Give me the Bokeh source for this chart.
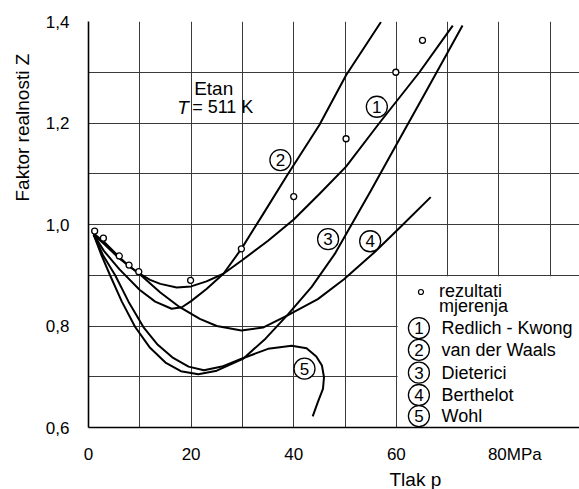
from bokeh.plotting import figure
from bokeh.models import FixedTicker, CustomJSTickFormatter, Range1d, Title
from bokeh.embed import file_html
from bokeh.resources import INLINE
from bokeh.core.properties import value

FONT = "Liberation Sans"

# measured data (rezultati mjerenja)
p_meas = [1.2, 2.9, 6.0, 7.9, 9.8, 19.9, 29.8, 40.0, 50.2, 59.9, 65.1]
z_meas = [0.987, 0.973, 0.938, 0.920, 0.907, 0.890, 0.952, 1.055, 1.169, 1.300, 1.363]

# (1) Redlich-Kwong
p_rk = [1.0, 2.9, 6.0, 7.9, 9.8, 12, 14, 17.2, 20, 23, 26.3, 30, 35, 40, 45, 50.2, 56.7, 64.5, 71.0]
z_rk = [0.982, 0.967, 0.936, 0.918, 0.904, 0.891, 0.883, 0.876, 0.878, 0.888, 0.903, 0.930, 0.968, 1.010, 1.060, 1.114, 1.200, 1.300, 1.392]

# (2) van der Waals
p_vdw = [1.0, 3, 6, 10, 13, 16.2, 18.2, 20, 23, 26.3, 29.8, 34, 38.6, 45, 50.2, 57.0]
z_vdw = [0.980, 0.948, 0.912, 0.871, 0.848, 0.834, 0.837, 0.849, 0.873, 0.903, 0.952, 1.020, 1.095, 1.196, 1.294, 1.399]

# (3) Dieterici
p_die = [1.0, 2.5, 4.2, 6.5, 9.1, 12, 15, 18, 21.4, 25, 30.2, 34.5, 38.8, 43.5, 48, 55, 60, 65, 70, 72.9]
z_die = [0.980, 0.940, 0.900, 0.848, 0.798, 0.757, 0.728, 0.711, 0.705, 0.712, 0.736, 0.775, 0.822, 0.877, 0.942, 1.066, 1.157, 1.248, 1.339, 1.392]

# (4) Berthelot
p_ber = [1.0, 3, 6, 10, 14, 17.8, 21.7, 25, 29.8, 34, 38.8, 44.7, 49.8, 55.7, 61, 66.7]
z_ber = [0.980, 0.962, 0.933, 0.902, 0.866, 0.837, 0.814, 0.800, 0.791, 0.797, 0.821, 0.853, 0.892, 0.945, 0.997, 1.054]

# (5) Wohl
p_wohl = [1.0, 2.8, 5.2, 7.8, 10.7, 13.5, 16.5, 19.5, 22.5, 26, 30.2, 35, 39.6, 42.5, 44.4, 45.5, 45.9, 45.7, 44.7, 43.7]
z_wohl = [0.980, 0.940, 0.900, 0.848, 0.798, 0.763, 0.737, 0.720, 0.713, 0.720, 0.737, 0.755, 0.761, 0.756, 0.740, 0.722, 0.699, 0.676, 0.650, 0.622]

x_ticks = [0, 20, 40, 60, 80]
x_grid = [0, 10, 20, 30, 40, 50, 60, 70, 80, 90]
y_ticks = [0.6, 0.8, 1.0, 1.2, 1.4]
y_grid = [0.7, 0.9, 1.1, 1.3]

curve_numbers = ["1", "2", "3", "4", "5"]
legend_names = ["Redlich - Kwong", "van der Waals", "Dieterici", "Berthelot", "Wohl"]

p = figure(width=579, height=489, x_range=Range1d(0, 95.7), y_range=Range1d(0.6, 1.4),
           output_backend="svg", toolbar_location=None,
           min_border_left=87, min_border_right=0, min_border_top=21, min_border_bottom=60)
p.outline_line_color = None
p.background_fill_color = "white"
p.border_fill_color = "white"

p.xaxis.ticker = FixedTicker(ticks=x_ticks)
p.xgrid.ticker = FixedTicker(ticks=x_grid)
yt = FixedTicker(ticks=y_ticks, minor_ticks=y_grid)
p.yaxis.ticker = yt
p.ygrid.ticker = yt
p.yaxis.formatter = CustomJSTickFormatter(code="return tick.toFixed(1).replace('.', ',');")
p.xaxis.formatter = CustomJSTickFormatter(
    code="return tick == 80 ? '\\u2007\\u2007\\u2007\\u200980MPa' : tick.toFixed(0);")

for g in (p.xgrid, p.ygrid):
    g.grid_line_color = "#3a3a3a"
    g.grid_line_width = 1
    g.minor_grid_line_color = "#3a3a3a"
    g.minor_grid_line_width = 1

for ax in (p.xaxis, p.yaxis):
    ax.axis_line_color = "black"
    ax.axis_line_width = 1.6
    ax.major_tick_line_color = None
    ax.minor_tick_line_color = None
    ax.major_tick_out = 0
    ax.major_tick_in = 0
    ax.minor_tick_out = 0
    ax.minor_tick_in = 0
    ax.major_label_text_font = FONT
    ax.major_label_text_font_size = "17px"
    ax.major_label_text_color = "black"
p.xaxis.major_label_standoff = 17
p.yaxis.major_label_standoff = 19

# axis titles
p.add_layout(Title(text="Faktor realnosti Z", align="left", offset=226, standoff=19,
                   text_font=FONT, text_font_size="19px", text_font_style="normal",
                   text_color="black"), "left")
p.add_layout(Title(text="Tlak p", align="left", offset=301, standoff=0,
                   text_font=FONT, text_font_size="19px", text_font_style="normal",
                   text_color="black"), "below")

# white legend area
p.quad(left=[60.25], right=[95.7], bottom=[0.6], top=[0.898], fill_color="white", line_color=None)

lw = 2.0
for xs, ys in ((p_rk, z_rk), (p_vdw, z_vdw), (p_die, z_die), (p_ber, z_ber), (p_wohl, z_wohl)):
    p.line(xs, ys, line_color="black", line_width=lw)

p.scatter(p_meas, z_meas, marker="circle", size=6, fill_color="white", line_color="black", line_width=1.3)

# circled curve numbers on the plot
num_x = [56.2, 37.4, 46.7, 54.9, 42.1]
num_y = [1.232, 1.127, 0.971, 0.967, 0.716]
p.scatter(num_x, num_y, marker="circle", size=21, fill_color="white", line_color="black", line_width=1.3)
p.text(num_x, num_y, text=curve_numbers, text_font=value(FONT), text_font_size="17px",
       text_align="center", text_baseline="middle", text_color="black")

# legend
leg_y = [0.796, 0.753, 0.708, 0.664, 0.6225]
p.scatter([64.4] * 5, leg_y, marker="circle", size=21, fill_color="white", line_color="black", line_width=1.3)
p.text([64.4] * 5, leg_y, text=curve_numbers, text_font=value(FONT), text_font_size="17px",
       text_align="center", text_baseline="middle", text_color="black")
p.text([68.8] * 5, leg_y, text=legend_names, text_font=value(FONT), text_font_size="18px",
       text_align="left", text_baseline="middle", text_color="black")
p.scatter([64.8], [0.867], marker="circle", size=5, fill_color="white", line_color="black", line_width=1.2)
p.text([68.3, 68.3], [0.869, 0.839], text=["rezultati", "mjerenja"], text_font=value(FONT),
       text_font_size="18px", text_align="left", text_baseline="middle", text_color="black")

# annotation Etan / T = 511 K
p.text([24.4], [1.268], text=["Etan"], text_font=value(FONT), text_font_size="19px",
       text_align="center", text_baseline="middle", text_color="black")
p.text([17.3], [1.231], text=["T"], text_font=value(FONT), text_font_size="19px", text_font_style="italic",
       text_align="left", text_baseline="middle", text_color="black")
p.text([20.2], [1.231], text=["= 511 K"], text_font=value(FONT), text_font_size="18px",
       text_align="left", text_baseline="middle", text_color="black")

open("out.html", "w").write(file_html(p, INLINE))
